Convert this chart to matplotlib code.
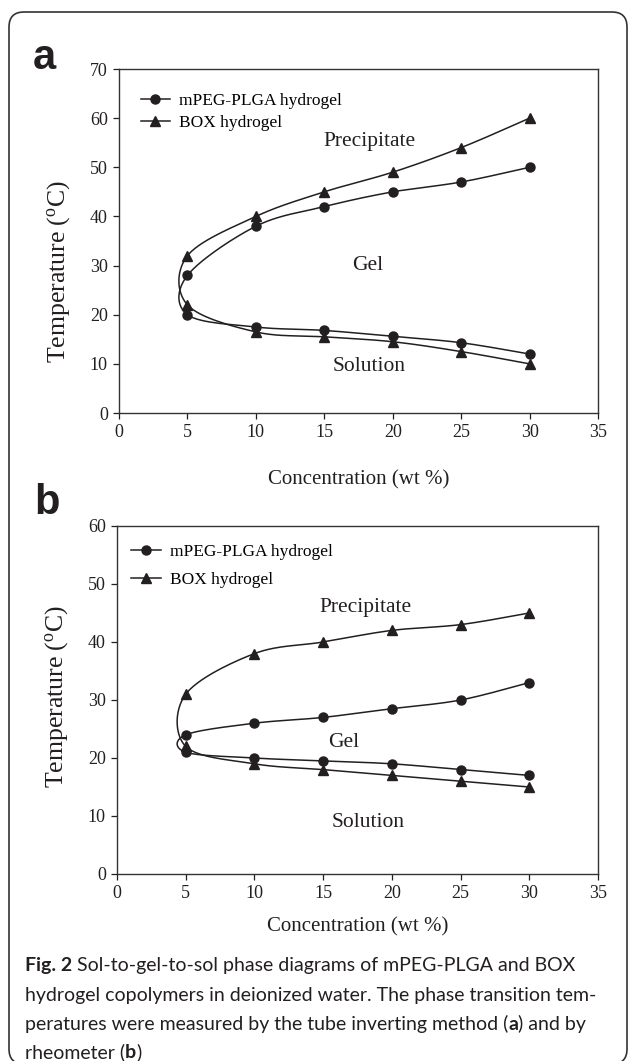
import numpy as np
import matplotlib
matplotlib.use("Agg")
import matplotlib.pyplot as plt
from matplotlib.patches import FancyBboxPatch
from matplotlib.lines import Line2D

plt.rcParams['font.family'] = ['Liberation Serif', 'DejaVu Serif']
plt.rcParams['mathtext.fontset'] = 'stix'

# concentrations (wt %)
conc = [5, 10, 15, 20, 25, 30]

# panel a: tube inverting method
a_peg_upper = [28, 38, 42, 45, 47, 50]
a_peg_lower = [20, 17.5, 16.8, 15.6, 14.3, 12]
a_box_upper = [32, 40, 45, 49, 54, 60]
a_box_lower = [22, 16.5, 15.5, 14.5, 12.5, 10]

# panel b: rheometer
b_peg_upper = [24, 26, 27, 28.5, 30, 33]
b_peg_lower = [21, 20, 19.5, 19, 18, 17]
b_box_upper = [31, 38, 40, 42, 43, 45]
b_box_lower = [22, 19, 18, 17, 16, 15]

series_names = ['mPEG-PLGA hydrogel', 'BOX hydrogel']
xticks = [0, 5, 10, 15, 20, 25, 30, 35]
ink = '#231f20'


def smooth(xs, ys, sx, sy, n=30):
    # excel-like smoothed line (catmull-rom in screen proportions)
    p = np.column_stack([np.asarray(xs, float) * sx, np.asarray(ys, float) * sy])
    out = []
    for i in range(len(p) - 1):
        p0 = p[i - 1] if i > 0 else p[i]
        p1, p2 = p[i], p[i + 1]
        p3 = p[i + 2] if i + 2 < len(p) else p[i + 1]
        c1 = p1 + (p2 - p0) / 6
        c2 = p2 - (p3 - p1) / 6
        t = np.linspace(0, 1, n)[:, None]
        seg = (1 - t) ** 3 * p1 + 3 * (1 - t) ** 2 * t * c1 + 3 * (1 - t) * t ** 2 * c2 + t ** 3 * p2
        out.append(seg)
    out = np.vstack(out)
    return out[:, 0] / sx, out[:, 1] / sy


def panel(ax, peg_up, peg_lo, box_up, box_lo, ymax, labels, leg_anchor, leg_spacing):
    w = ax.get_position().width * 630
    h = ax.get_position().height * 1061
    sx, sy = w / 35, h / ymax
    for up, lo, mk, ms in [(peg_up, peg_lo, 'o', 6.5), (box_up, box_lo, '^', 7)]:
        xs = conc[::-1] + conc
        ys = up[::-1] + lo
        lx, ly = smooth(xs, ys, sx, sy)
        ax.plot(lx, ly, color=ink, lw=1.1)
        ax.plot(xs, ys, ls='none', marker=mk, ms=ms, color=ink)
    ax.set_xlim(0, 35)
    ax.set_ylim(0, ymax)
    ax.set_xticks(xticks)
    ax.set_yticks(np.arange(0, ymax + 1, 10))
    ax.tick_params(direction='out', length=4, width=0.9, labelsize=13, colors=ink, pad=4)
    for s in ax.spines.values():
        s.set_color('#333333')
        s.set_linewidth(1.0)
    ax.set_xlabel('Concentration (wt %)', fontsize=15, color=ink, va='top')
    ax.set_ylabel(r'Temperature ($\mathregular{^{o}}$C)', fontsize=18.5, color=ink)
    handles = [Line2D([], [], color=ink, lw=1.1, marker='o', ms=6.5),
               Line2D([], [], color=ink, lw=1.1, marker='^', ms=7)]
    ax.legend(handles, series_names, loc='upper left', bbox_to_anchor=leg_anchor,
              frameon=False, fontsize=12.5, handlelength=1.7, handletextpad=0.5,
              labelspacing=leg_spacing, borderaxespad=0.0, borderpad=0.0)
    for txt, x, y in labels:
        ax.text(x, y, txt, fontsize=15.5, color=ink, ha='center', va='center')


fig = plt.figure(figsize=(6.3, 10.61), dpi=100)

ax1 = fig.add_axes([119 / 630, 1 - 413 / 1061, 479 / 630, 344 / 1061])
panel(ax1, a_peg_upper, a_peg_lower, a_box_upper, a_box_lower, 70,
      [('Precipitate', 18.3, 55.2), ('Gel', 18.2, 30), ('Solution', 18.3, 9.4)],
      (0.045, 0.93), 0.32)
ax1.yaxis.set_label_coords(-0.098, 0.41)
ax1.xaxis.set_label_coords(0.5, -0.166)

ax2 = fig.add_axes([117 / 630, 1 - 874 / 1061, 481 / 630, 348 / 1061])
panel(ax2, b_peg_upper, b_peg_lower, b_box_upper, b_box_lower, 60,
      [('Precipitate', 18.1, 46), ('Gel', 16.5, 22.6), ('Solution', 18.3, 8.8)],
      (0.03, 0.948), 0.65)
ax2.yaxis.set_label_coords(-0.098, 0.51)
ax2.xaxis.set_label_coords(0.5, -0.124)

fig.text(44 / 630, 1 - 58 / 1061, 'a', fontsize=30, fontweight='bold',
         family='Liberation Sans', color=ink, ha='center', va='center')
fig.text(47 / 630, 1 - 503 / 1061, 'b', fontsize=30, fontweight='bold',
         family='Liberation Sans', color=ink, ha='center', va='center')

# rounded frame
fig.patches.append(FancyBboxPatch((0.09, -0.03), 6.18, 10.61 - 0.12 + 0.03,
                                  boxstyle='round,pad=0,rounding_size=0.15',
                                  transform=fig.dpi_scale_trans, fill=False,
                                  ec='#333333', lw=1.2))

# caption with bold pieces
caption = [
    [('Fig. 2', True), (' Sol-to-gel-to-sol phase diagrams of mPEG-PLGA and BOX', False)],
    [('hydrogel copolymers in deionized water. The phase transition tem-', False)],
    [('peratures were measured by the tube inverting method (', False), ('a', True),
     (') and by', False)],
    [('rheometer (', False), ('b', True), (')', False)],
]
renderer = fig.canvas.get_renderer()
line_y = [966, 995, 1024, 1052]
for parts, yp in zip(caption, line_y):
    xp = 25
    for txt, bold in parts:
        t = fig.text(xp / 630, 1 - yp / 1061, txt, fontsize=14, family='Lato',
                     fontweight='bold' if bold else 'normal', color=ink,
                     ha='left', va='center')
        bb = t.get_window_extent(renderer)
        xp += bb.width

fig.savefig('out.png', dpi=100)
